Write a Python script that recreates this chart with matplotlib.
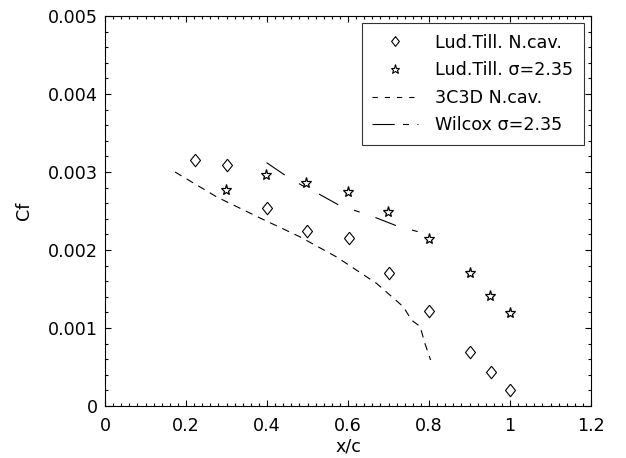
import numpy as np
import matplotlib
matplotlib.use("Agg")
import matplotlib.pyplot as plt
from matplotlib.lines import Line2D
from matplotlib.ticker import MultipleLocator, FixedLocator, FixedFormatter

plt.rcParams["font.family"] = ["DejaVu Sans"]
plt.rcParams["lines.scale_dashes"] = False

# Ludwieg-Tillmann, no cavitation
x_lt_nc = [0.222, 0.300, 0.399, 0.498, 0.602, 0.701, 0.801, 0.900, 0.952, 1.000]
cf_lt_nc = [0.00315, 0.00309, 0.00254, 0.00225, 0.00216, 0.00171, 0.00122, 0.00069, 0.00044, 0.00020]

# Ludwieg-Tillmann, sigma = 2.35
x_lt_s = [0.299, 0.398, 0.496, 0.600, 0.699, 0.799, 0.900, 0.951, 1.000]
cf_lt_s = [0.00277, 0.00296, 0.00286, 0.00274, 0.00249, 0.00214, 0.00171, 0.00141, 0.00119]

# 3C3D, no cavitation
x_3c3d = [0.173, 0.276, 0.391, 0.481, 0.572, 0.671, 0.737, 0.757, 0.778, 0.790, 0.804]
cf_3c3d = [0.00300, 0.00268, 0.00239, 0.00217, 0.00191, 0.00157, 0.00127, 0.00110, 0.00102, 0.00080, 0.00059]

# Wilcox, sigma = 2.35
x_wil = [0.399, 0.444, 0.486, 0.531, 0.576, 0.671, 0.720, 0.790]
cf_wil = [0.00312, 0.00296, 0.00283, 0.00271, 0.00258, 0.00241, 0.00231, 0.00221]

labels = ["Lud.Till. N.cav.", "Lud.Till. \u03c3=2.35", "3C3D N.cav.", "Wilcox \u03c3=2.35"]

xticks = [0, 0.2, 0.4, 0.6, 0.8, 1.0, 1.2]
xticklabels = ["0", "0.2", "0.4", "0.6", "0.8", "1", "1.2"]
yticks = [0, 0.001, 0.002, 0.003, 0.004, 0.005]
yticklabels = ["0", "0.001", "0.002", "0.003", "0.004", "0.005"]

FS = 12.6
diamond = [(0, 1), (0.8, 0), (0, -1), (-0.8, 0), (0, 1)]
dash_3c3d = (0, (5.4, 4.3))
dash_wil = (0, (15.8, 12, 4.3, 12))

fig = plt.figure(figsize=(6.26, 4.58), dpi=100)
ax = fig.add_axes([105 / 626, 52 / 458, 486 / 626, 390 / 458])

ax.plot(x_lt_nc, cf_lt_nc, linestyle="none", marker=diamond, markersize=9,
        markerfacecolor="white", markeredgecolor="black", markeredgewidth=0.8)
ax.plot(x_lt_s, cf_lt_s, linestyle="none", marker="*", markersize=8,
        markerfacecolor="white", markeredgecolor="black", markeredgewidth=0.9)
ax.plot(x_3c3d, cf_3c3d, color="black", linewidth=0.8, linestyle=dash_3c3d)
ax.plot(x_wil, cf_wil, color="black", linewidth=0.8, linestyle=dash_wil)

ax.set_xlim(0, 1.2)
ax.set_ylim(0, 0.005)
ax.xaxis.set_major_locator(FixedLocator(xticks))
ax.xaxis.set_major_formatter(FixedFormatter(xticklabels))
ax.yaxis.set_major_locator(FixedLocator(yticks))
ax.yaxis.set_major_formatter(FixedFormatter(yticklabels))
ax.xaxis.set_minor_locator(MultipleLocator(0.02))
ax.yaxis.set_minor_locator(MultipleLocator(0.0002))
ax.tick_params(which="both", direction="in", top=True, right=True, labelsize=FS,
               width=0.8, color="black")
ax.tick_params(which="major", length=4.5)
ax.tick_params(which="minor", length=2.2)
ax.tick_params(axis="x", which="major", pad=8)
ax.tick_params(axis="y", which="major", pad=5)
for sp in ax.spines.values():
    sp.set_linewidth(0.8)

ax.set_xlabel("x/c", fontsize=FS, labelpad=2)
ax.set_ylabel("Cf", fontsize=FS, labelpad=11)

# legend proxies (legend glyphs are drawn a bit smaller, dash pattern shorter)
handles = [
    Line2D([], [], linestyle="none", marker=diamond, markersize=7,
           markerfacecolor="white", markeredgecolor="black", markeredgewidth=0.8),
    Line2D([], [], linestyle="none", marker="*", markersize=6.5,
           markerfacecolor="white", markeredgecolor="black", markeredgewidth=0.8),
    Line2D([], [], color="black", linewidth=0.8, linestyle=(0, (3.8, 5))),
    Line2D([], [], color="black", linewidth=0.8, linestyle=(0, (16, 6, 4.3, 6))),
]
leg = ax.legend(handles, labels, loc="upper right", fontsize=FS, frameon=True,
                fancybox=False, edgecolor="black", handlelength=2.6,
                handletextpad=1.0, borderpad=0.6, labelspacing=0.55,
                borderaxespad=0.4)
leg.get_frame().set_linewidth(0.8)

fig.savefig("out.png", dpi=100)
